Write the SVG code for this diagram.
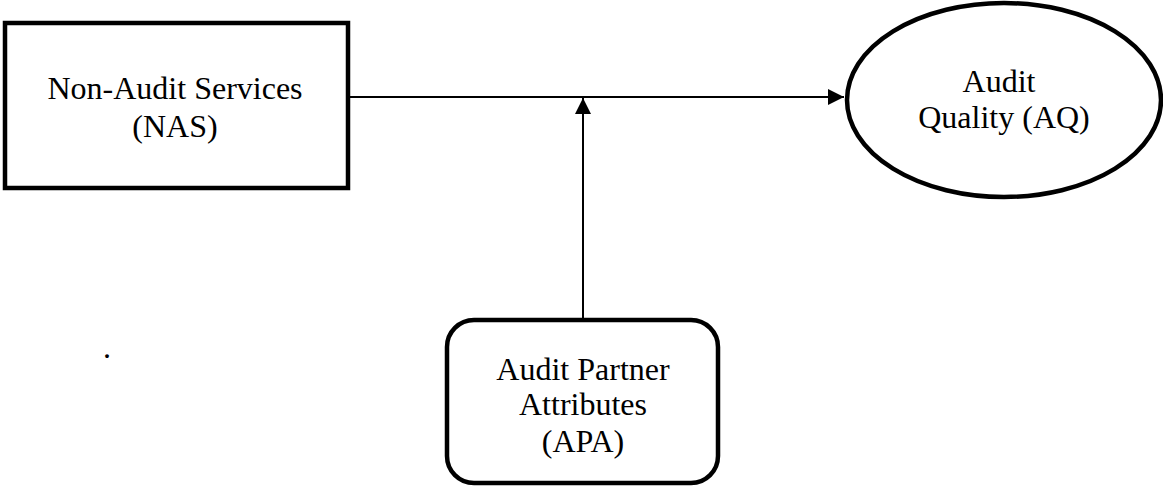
<svg xmlns="http://www.w3.org/2000/svg" width="1163" height="489" viewBox="0 0 1163 489">
<style>
.box{fill:#fff;stroke:#000;stroke-width:4.5}
.lbl{font-family:"Liberation Serif","Times New Roman",serif;font-size:32px;fill:#000;text-anchor:middle}
.conn{stroke:#000;stroke-width:2;fill:none}
</style>
<defs>
<marker id="arr" markerUnits="userSpaceOnUse" markerWidth="18" markerHeight="18" refX="16" refY="9" orient="auto">
<path d="M0,1 L16,9 L0,17 Z" fill="#000"/>
</marker>
</defs>
<rect width="1163" height="489" fill="#fff"/>
<g id="connectors">
<line class="conn" x1="350" y1="97" x2="844" y2="97" marker-end="url(#arr)"/>
<line class="conn" x1="583" y1="318" x2="583" y2="98" marker-end="url(#arr)"/>
</g>
<g id="nas">
<rect class="box" x="5" y="23" width="343" height="165"/>
<text class="lbl" x="175" y="99">Non-Audit Services</text>
<text class="lbl" x="175" y="137">(NAS)</text>
</g>
<g id="aq">
<ellipse class="box" cx="1004" cy="100" rx="157" ry="97"/>
<text class="lbl" x="999" y="92">Audit</text>
<text class="lbl" x="1004" y="128">Quality (AQ)</text>
</g>
<g id="apa">
<rect class="box" x="447" y="320" width="271" height="163" rx="27" ry="27"/>
<text class="lbl" x="583" y="380">Audit Partner</text>
<text class="lbl" x="583" y="415">Attributes</text>
<text class="lbl" x="583" y="452">(APA)</text>
</g>
<text class="lbl" x="107" y="358">.</text>
</svg>
